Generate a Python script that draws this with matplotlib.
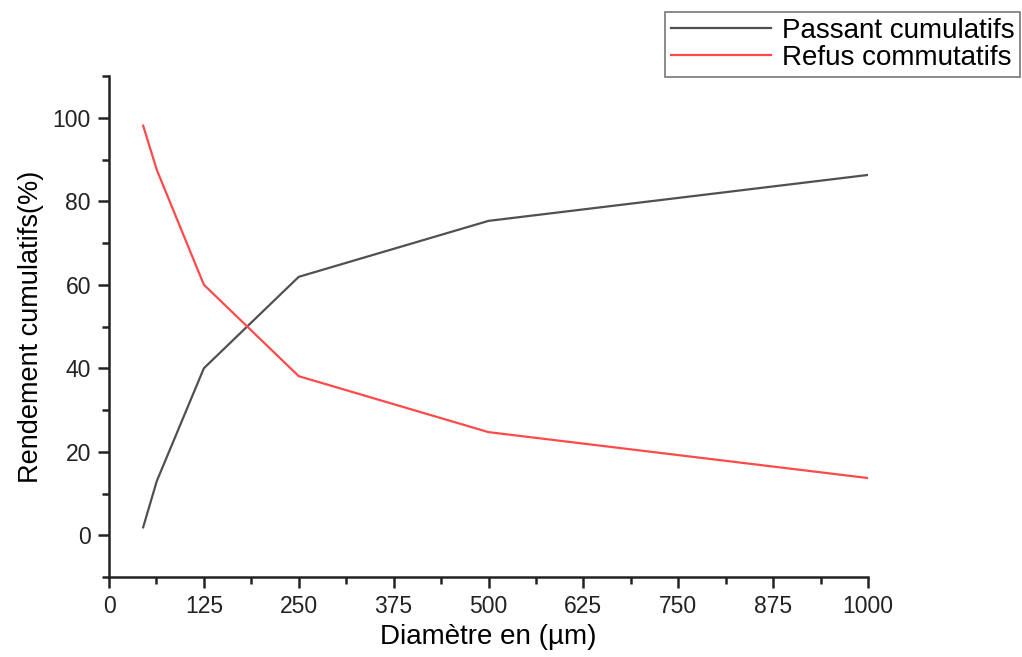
import matplotlib
matplotlib.use("Agg")
from matplotlib import pyplot as plt
from matplotlib.ticker import MultipleLocator

plt.rcParams['font.family'] = ['Liberation Sans', 'DejaVu Sans']

# sieve sizes (um) and cumulative yields (%)
diametre = [45, 63, 125, 250, 500, 1000]
passant = [1.9, 13.0, 40.0, 61.9, 75.3, 86.3]
refus = [98.1, 87.5, 60.0, 38.1, 24.7, 13.7]

fig = plt.figure(figsize=(10.22, 6.57), dpi=100)
ax = fig.add_axes([109/1022, 1 - 577/657, (868 - 109)/1022, (577 - 76)/657])

ax.plot(diametre, passant, color='#505050', lw=1.6, label='Passant cumulatifs')
ax.plot(diametre, refus, color='#ff4a4a', lw=1.6, label='Refus commutatifs')

ax.set_xlim(0, 1000)
ax.set_ylim(-10, 110)
ax.xaxis.set_major_locator(MultipleLocator(125))
ax.xaxis.set_minor_locator(MultipleLocator(62.5))
ax.yaxis.set_minor_locator(MultipleLocator(10))
ax.set_yticks(range(0, 101, 20))

for s in ['top', 'right']:
    ax.spines[s].set_visible(False)
for s in ['left', 'bottom']:
    ax.spines[s].set_linewidth(1.8)
    ax.spines[s].set_color('#222222')

ax.tick_params(which='major', direction='out', length=8, width=1.8, labelsize=16.5, colors='#222222', pad=5)
ax.tick_params(which='minor', direction='out', length=5, width=1.8, colors='#222222')

ax.set_xlabel('Diamètre en (µm)', fontsize=20, labelpad=4)
ax.set_ylabel('Rendement cumulatifs(%)', fontsize=19.5, labelpad=6)

leg = fig.legend(loc='upper right', bbox_to_anchor=(1020/1022, 1 - 12/657),
                 fontsize=20, frameon=True, fancybox=False, edgecolor='#555555',
                 borderaxespad=0, borderpad=0.2, handlelength=3.6, handletextpad=0.4,
                 labelspacing=0.05)
leg.get_frame().set_linewidth(1.2)

fig.savefig('out.png', dpi=100)
